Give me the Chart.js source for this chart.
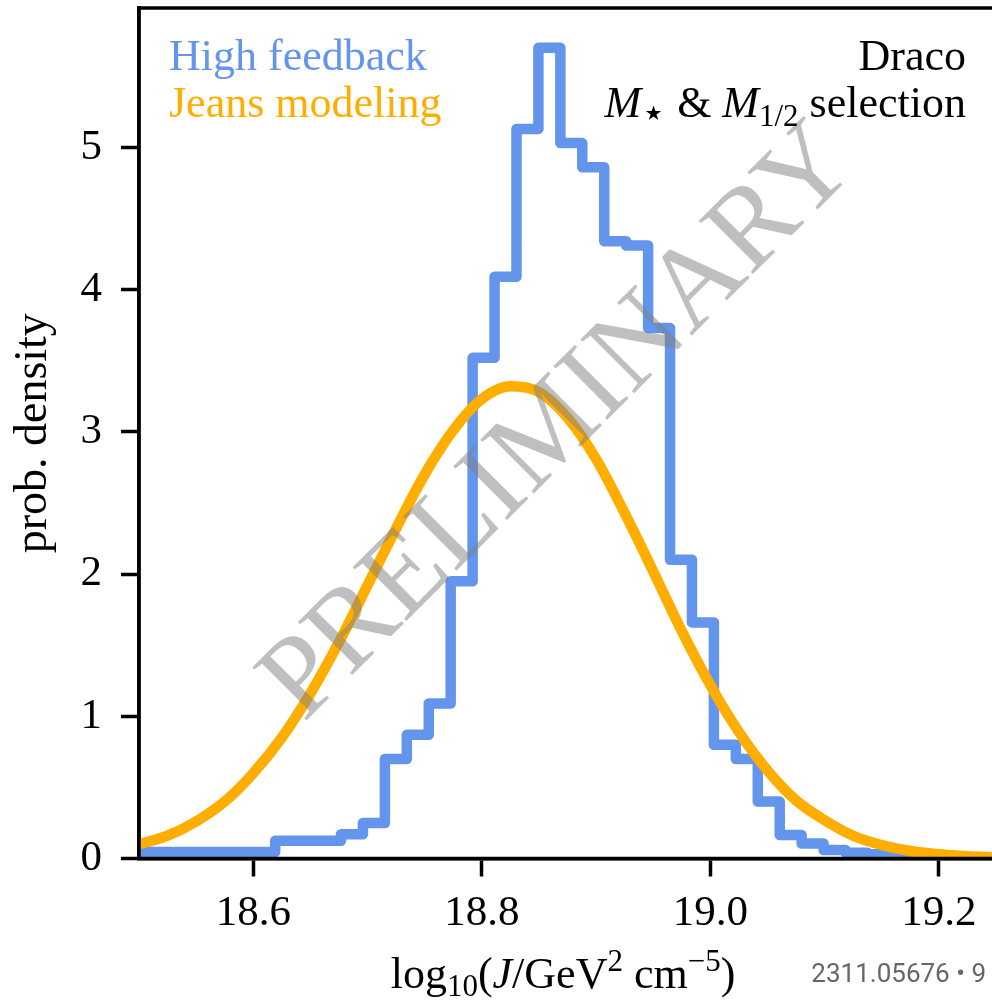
<!DOCTYPE html>
<html>
<head>
<meta charset="utf-8">
<script src="https://cdn.jsdelivr.net/npm/chart.js@4.4.1/dist/chart.umd.min.js"></script>
<style>
  html, body { margin: 0; padding: 0; background: #fff; }
  #chart { display: block; }
</style>
</head>
<body>
<canvas id="chart" width="992" height="1006"></canvas>
<script>
// histogram bin edges (log10 J) and normalised counts
const binEdges = [18.4656, 18.4848, 18.504, 18.5232, 18.5424, 18.5616, 18.5808, 18.6,
  18.6192, 18.6384, 18.6576, 18.6768, 18.696, 18.7152, 18.7344, 18.7536, 18.7728,
  18.792, 18.8112, 18.8304, 18.8496, 18.8688, 18.888, 18.9072, 18.9264, 18.9456,
  18.9648, 18.984, 19.0032, 19.0224, 19.0416, 19.0608, 19.08, 19.0992, 19.1184,
  19.1376, 19.1568, 19.176, 19.1952];
const highFeedback = [0.045, 0.045, 0.045, 0.045, 0.045, 0.045, 0.045, 0.045,
  0.125, 0.125, 0.125, 0.17, 0.25, 0.70, 0.87, 1.09, 1.95,
  3.52, 4.09, 5.13, 5.70, 5.03, 4.86, 4.34, 4.31, 3.73,
  2.10, 1.66, 0.80, 0.70, 0.40, 0.165, 0.105, 0.06, 0.04,
  0.03, 0.02, 0.02];

// Jeans modeling curve, sampled off the figure
const jeansX = [18.475, 18.5, 18.525, 18.55, 18.575, 18.6, 18.625, 18.65, 18.675, 18.7,
  18.725, 18.75, 18.775, 18.8, 18.825, 18.85, 18.875, 18.9, 18.925, 18.95, 18.975,
  19.0, 19.025, 19.05, 19.075, 19.1, 19.125, 19.15, 19.175, 19.2, 19.225, 19.25];
const jeansDensity = [0.06, 0.10, 0.16, 0.26, 0.40, 0.60, 0.85, 1.16, 1.52, 1.92,
  2.32, 2.70, 3.01, 3.23, 3.32, 3.28, 3.10, 2.81, 2.43, 2.02, 1.60,
  1.22, 0.89, 0.62, 0.41, 0.27, 0.16, 0.095, 0.053, 0.03, 0.016, 0.008];

const xTicks = [18.6, 18.8, 19.0, 19.2];
const yTicks = [0, 1, 2, 3, 4, 5];
const seriesNames = ['High feedback', 'Jeans modeling'];
const galaxyName = 'Draco';
const yTitle = 'prob. density';
const watermark = 'PRELIMINARY';
const sourceNote = '2311.05676 \u2022 9';

const blue = '#6495ed';
const orange = '#ffae00';
const serif = '"Liberation Serif", "Times New Roman", serif';

function runFont(r) {
  return (r.it ? 'italic ' : '') + (r.s || 44) + 'px ' + (r.f || serif);
}

// draw a line of mixed-style text (italics, sub/superscripts)
function drawRuns(ctx, runs, x, y, align) {
  let total = 0;
  runs.forEach(r => { ctx.font = runFont(r); total += ctx.measureText(r.t).width; });
  let cx = x;
  if (align === 'right') cx = x - total;
  if (align === 'center') cx = x - total / 2;
  ctx.textAlign = 'left';
  ctx.textBaseline = 'alphabetic';
  runs.forEach(r => {
    ctx.font = runFont(r);
    ctx.fillText(r.t, cx, y + (r.dy || 0));
    cx += ctx.measureText(r.t).width;
  });
}

const decorations = {
  id: 'decorations',
  afterDatasetsDraw(chart) {
    const ctx = chart.ctx;
    const a = chart.chartArea;
    ctx.save();

    // spines on top of the lines
    ctx.strokeStyle = '#000';
    ctx.lineWidth = 3.5;
    ctx.beginPath();
    ctx.moveTo(a.left, a.top);
    ctx.lineTo(a.right, a.top);
    ctx.moveTo(a.left, a.top - 1.75);
    ctx.lineTo(a.left, a.bottom + 1.75);
    ctx.moveTo(a.left - 1.75, a.bottom);
    ctx.lineTo(a.right, a.bottom);
    ctx.stroke();

    // watermark
    ctx.save();
    ctx.translate(560, 424);
    ctx.rotate(-Math.PI / 4);
    ctx.font = '116px ' + serif;
    ctx.fillStyle = 'rgba(128,128,128,0.5)';
    ctx.textAlign = 'center';
    ctx.textBaseline = 'middle';
    ctx.fillText(watermark, 0, 0);
    ctx.restore();

    // legend as coloured text
    ctx.textAlign = 'left';
    ctx.textBaseline = 'alphabetic';
    ctx.font = '44px ' + serif;
    ctx.fillStyle = blue;
    ctx.fillText(seriesNames[0], 169, 70);
    ctx.fillStyle = orange;
    ctx.fillText(seriesNames[1], 169, 117);

    // top-right annotation
    ctx.fillStyle = '#000';
    ctx.textAlign = 'right';
    ctx.fillText(galaxyName, 966, 70);
    drawRuns(ctx, [
      { t: 'M', it: true },
      { t: '\u22c6', s: 40, dy: 9, f: '"DejaVu Serif", serif' },
      { t: ' & ' },
      { t: 'M', it: true },
      { t: '1/2', s: 31, dy: 9 },
      { t: ' selection' }
    ], 966, 117, 'right');

    // x axis title
    drawRuns(ctx, [
      { t: 'log' },
      { t: '10', s: 31, dy: 8 },
      { t: '(' },
      { t: 'J', it: true },
      { t: '/' },
      { t: 'GeV' },
      { t: '2', s: 31, dy: -17 },
      { t: ' cm' },
      { t: '\u22125', s: 31, dy: -17 },
      { t: ')' }
    ], 563, 988, 'center');

    // source note
    ctx.font = '26px Roboto, "Liberation Sans", sans-serif';
    ctx.fillStyle = '#666';
    ctx.textAlign = 'right';
    ctx.fillText(sourceNote, 986, 982);

    ctx.restore();
  }
};

new Chart(document.getElementById('chart'), {
  type: 'line',
  data: {
    datasets: [
      {
        label: seriesNames[1],
        data: jeansX.map((x, i) => ({ x: x, y: jeansDensity[i] })),
        borderColor: orange,
        borderWidth: 10.5,
        cubicInterpolationMode: 'monotone',
        pointRadius: 0,
        fill: false,
        clip: 0
      },
      {
        label: seriesNames[0],
        // each bin's level runs from its left edge to the next edge
        data: binEdges.map((e, i) => ({ x: e, y: i < highFeedback.length ? highFeedback[i] : 0 })),
        borderColor: blue,
        borderWidth: 10.5,
        stepped: 'before',
        borderJoinStyle: 'round',
        pointRadius: 0,
        fill: false,
        clip: 0
      }
    ]
  },
  options: {
    responsive: false,
    animation: false,
    devicePixelRatio: 1,
    layout: { padding: { top: 8, left: 0, right: 0, bottom: 0 } },
    plugins: {
      legend: { display: false },
      tooltip: { enabled: false }
    },
    scales: {
      x: {
        type: 'linear',
        min: 18.5,
        max: 19.2466,
        afterFit: s => { s.height = 147.5; s.paddingLeft = 0; s.paddingRight = 0; },
        afterBuildTicks: s => { s.ticks = xTicks.map(v => ({ value: v })); },
        grid: { drawOnChartArea: false, drawTicks: true, tickLength: 18, tickWidth: 3.5, tickColor: '#000' },
        border: { display: true, color: '#000', width: 3.5 },
        ticks: {
          color: '#000',
          padding: 11,
          font: { family: serif, size: 43 },
          callback: v => v.toFixed(1)
        }
      },
      y: {
        type: 'linear',
        min: 0,
        max: 5.98,
        afterFit: s => { s.width = 139; s.paddingTop = 0; s.paddingBottom = 0; },
        afterBuildTicks: s => { s.ticks = yTicks.map(v => ({ value: v })); },
        grid: { drawOnChartArea: false, drawTicks: true, tickLength: 18, tickWidth: 3.5, tickColor: '#000' },
        border: { display: true, color: '#000', width: 3.5 },
        ticks: {
          color: '#000',
          padding: 19,
          font: { family: serif, size: 43 },
          callback: v => String(v)
        },
        title: {
          display: true,
          text: yTitle,
          color: '#000',
          font: { family: serif, size: 46 },
          padding: { top: 6, bottom: 0 }
        }
      }
    }
  },
  plugins: [decorations]
});
</script>
</body>
</html>
